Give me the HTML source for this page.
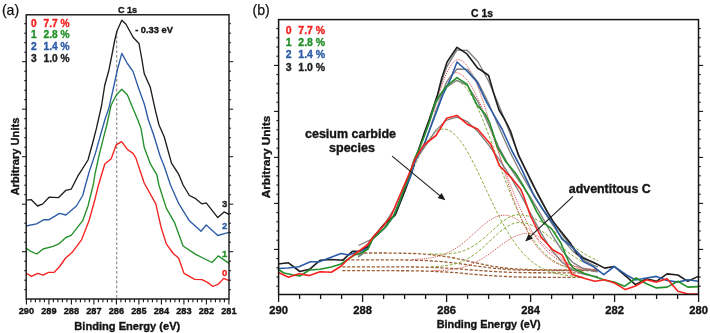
<!DOCTYPE html>
<html><head><meta charset="utf-8"><style>
html,body{margin:0;padding:0;background:#fff;}
body{width:710px;height:333px;overflow:hidden;}
svg{display:block;will-change:transform;}
text{font-family:"Liberation Sans",sans-serif;}
</style></head><body>
<svg width="710" height="333" viewBox="0 0 710 333">
<rect width="710" height="333" fill="#fff"/>
<line x1="116.7" y1="31" x2="116.7" y2="298" stroke="#8a8a8a" stroke-width="1.15" stroke-dasharray="2.8,2"/>
<path d="M26.0,273.0 L31.4,276.4 L37.7,273.3 L43.1,275.1 L48.5,272.4 L53.9,272.4 L59.3,267.0 L65.6,258.0 L72.0,252.6 L81.7,239.6 L89.0,220.7 L94.3,201.8 L98.5,185.0 L104.8,164.0 L111.2,158.8 L116.2,144.8 L121.6,141.6 L127.2,149.2 L133.0,153.4 L135.8,157.9 L140.0,170.5 L144.2,183.0 L155.8,203.9 L161.0,227.0 L166.3,243.9 L173.2,253.5 L178.6,258.0 L184.0,273.4 L194.8,279.3 L202.0,279.7 L207.5,282.4 L212.9,286.5 L218.3,284.2 L223.7,278.4 L229.0,280.6" fill="none" stroke="#f5221e" stroke-width="1.35" stroke-linejoin="round" />
<path d="M26.0,248.1 L31.4,251.7 L36.8,254.0 L43.1,249.0 L53.0,246.3 L59.3,243.6 L65.9,237.5 L71.2,235.4 L82.7,220.7 L88.0,206.0 L93.2,185.0 L95.3,172.5 L99.5,153.6 L103.7,136.8 L106.8,125.0 L111.0,105.5 L116.3,95.0 L121.8,89.2 L127.4,95.0 L133.0,108.6 L138.3,121.0 L141.0,128.4 L144.2,147.3 L150.5,164.2 L156.8,174.7 L158.9,185.0 L166.3,208.1 L174.7,222.9 L183.1,246.0 L195.7,254.4 L212.0,262.5 L218.3,255.9 L229.0,263.4" fill="none" stroke="#23902a" stroke-width="1.35" stroke-linejoin="round" />
<path d="M26.0,226.0 L36.5,223.9 L43.9,219.7 L49.1,219.7 L59.6,213.4 L65.9,215.0 L76.4,206.0 L82.7,195.5 L85.5,185.0 L89.0,172.5 L95.3,153.6 L100.6,134.7 L104.8,120.0 L109.0,107.6 L114.2,84.5 L117.4,69.7 L121.8,53.4 L127.4,63.5 L133.0,71.4 L138.6,88.3 L144.3,104.0 L148.4,120.0 L153.6,134.7 L160.0,155.8 L164.2,166.3 L170.5,185.0 L178.9,203.9 L189.4,220.8 L201.0,231.3 L206.2,225.0 L217.8,235.5 L225.2,233.4 L229.0,232.3" fill="none" stroke="#2c5ca6" stroke-width="1.35" stroke-linejoin="round" />
<path d="M26.0,200.1 L31.3,199.7 L37.6,206.0 L42.8,203.9 L49.1,197.2 L58.6,197.6 L65.9,190.3 L71.2,189.2 L77.5,176.7 L88.0,160.0 L93.2,141.0 L96.4,128.4 L101.6,105.5 L104.7,85.5 L109.0,69.7 L112.5,52.0 L114.8,40.0 L117.0,31.0 L121.8,20.2 L126.0,24.3 L130.5,32.5 L133.5,37.8 L139.0,43.5 L142.0,60.0 L144.2,73.5 L150.3,87.3 L155.5,110.8 L159.0,125.0 L164.2,136.8 L171.5,163.1 L178.9,174.7 L183.1,185.0 L189.4,195.5 L195.7,198.7 L202.0,203.9 L206.2,202.9 L217.8,217.6 L224.1,211.9 L229.0,214.4" fill="none" stroke="#1e1e1e" stroke-width="1.35" stroke-linejoin="round" />
<rect x="26.2" y="14.8" width="202.8" height="284.2" fill="none" stroke="#141414" stroke-width="1.4"/>
<line x1="26.40" y1="299.00" x2="26.40" y2="304.50" stroke="#141414" stroke-width="1.1"/>
<text x="26.4" y="313.8" font-size="9.2" font-weight="bold" fill="#141414" stroke="#141414" stroke-width="0.35" text-anchor="middle" >290</text>
<line x1="30.90" y1="299.00" x2="30.90" y2="302.20" stroke="#141414" stroke-width="1.1"/>
<line x1="35.40" y1="299.00" x2="35.40" y2="302.20" stroke="#141414" stroke-width="1.1"/>
<line x1="39.90" y1="299.00" x2="39.90" y2="302.20" stroke="#141414" stroke-width="1.1"/>
<line x1="44.40" y1="299.00" x2="44.40" y2="302.20" stroke="#141414" stroke-width="1.1"/>
<line x1="48.90" y1="299.00" x2="48.90" y2="304.50" stroke="#141414" stroke-width="1.1"/>
<text x="48.9" y="313.8" font-size="9.2" font-weight="bold" fill="#141414" stroke="#141414" stroke-width="0.35" text-anchor="middle" >289</text>
<line x1="53.40" y1="299.00" x2="53.40" y2="302.20" stroke="#141414" stroke-width="1.1"/>
<line x1="57.90" y1="299.00" x2="57.90" y2="302.20" stroke="#141414" stroke-width="1.1"/>
<line x1="62.40" y1="299.00" x2="62.40" y2="302.20" stroke="#141414" stroke-width="1.1"/>
<line x1="66.90" y1="299.00" x2="66.90" y2="302.20" stroke="#141414" stroke-width="1.1"/>
<line x1="71.40" y1="299.00" x2="71.40" y2="304.50" stroke="#141414" stroke-width="1.1"/>
<text x="71.4" y="313.8" font-size="9.2" font-weight="bold" fill="#141414" stroke="#141414" stroke-width="0.35" text-anchor="middle" >288</text>
<line x1="75.90" y1="299.00" x2="75.90" y2="302.20" stroke="#141414" stroke-width="1.1"/>
<line x1="80.40" y1="299.00" x2="80.40" y2="302.20" stroke="#141414" stroke-width="1.1"/>
<line x1="84.90" y1="299.00" x2="84.90" y2="302.20" stroke="#141414" stroke-width="1.1"/>
<line x1="89.40" y1="299.00" x2="89.40" y2="302.20" stroke="#141414" stroke-width="1.1"/>
<line x1="93.90" y1="299.00" x2="93.90" y2="304.50" stroke="#141414" stroke-width="1.1"/>
<text x="93.9" y="313.8" font-size="9.2" font-weight="bold" fill="#141414" stroke="#141414" stroke-width="0.35" text-anchor="middle" >287</text>
<line x1="98.40" y1="299.00" x2="98.40" y2="302.20" stroke="#141414" stroke-width="1.1"/>
<line x1="102.90" y1="299.00" x2="102.90" y2="302.20" stroke="#141414" stroke-width="1.1"/>
<line x1="107.40" y1="299.00" x2="107.40" y2="302.20" stroke="#141414" stroke-width="1.1"/>
<line x1="111.90" y1="299.00" x2="111.90" y2="302.20" stroke="#141414" stroke-width="1.1"/>
<line x1="116.40" y1="299.00" x2="116.40" y2="304.50" stroke="#141414" stroke-width="1.1"/>
<text x="116.4" y="313.8" font-size="9.2" font-weight="bold" fill="#141414" stroke="#141414" stroke-width="0.35" text-anchor="middle" >286</text>
<line x1="120.90" y1="299.00" x2="120.90" y2="302.20" stroke="#141414" stroke-width="1.1"/>
<line x1="125.40" y1="299.00" x2="125.40" y2="302.20" stroke="#141414" stroke-width="1.1"/>
<line x1="129.90" y1="299.00" x2="129.90" y2="302.20" stroke="#141414" stroke-width="1.1"/>
<line x1="134.40" y1="299.00" x2="134.40" y2="302.20" stroke="#141414" stroke-width="1.1"/>
<line x1="138.90" y1="299.00" x2="138.90" y2="304.50" stroke="#141414" stroke-width="1.1"/>
<text x="138.9" y="313.8" font-size="9.2" font-weight="bold" fill="#141414" stroke="#141414" stroke-width="0.35" text-anchor="middle" >285</text>
<line x1="143.40" y1="299.00" x2="143.40" y2="302.20" stroke="#141414" stroke-width="1.1"/>
<line x1="147.90" y1="299.00" x2="147.90" y2="302.20" stroke="#141414" stroke-width="1.1"/>
<line x1="152.40" y1="299.00" x2="152.40" y2="302.20" stroke="#141414" stroke-width="1.1"/>
<line x1="156.90" y1="299.00" x2="156.90" y2="302.20" stroke="#141414" stroke-width="1.1"/>
<line x1="161.40" y1="299.00" x2="161.40" y2="304.50" stroke="#141414" stroke-width="1.1"/>
<text x="161.4" y="313.8" font-size="9.2" font-weight="bold" fill="#141414" stroke="#141414" stroke-width="0.35" text-anchor="middle" >284</text>
<line x1="165.90" y1="299.00" x2="165.90" y2="302.20" stroke="#141414" stroke-width="1.1"/>
<line x1="170.40" y1="299.00" x2="170.40" y2="302.20" stroke="#141414" stroke-width="1.1"/>
<line x1="174.90" y1="299.00" x2="174.90" y2="302.20" stroke="#141414" stroke-width="1.1"/>
<line x1="179.40" y1="299.00" x2="179.40" y2="302.20" stroke="#141414" stroke-width="1.1"/>
<line x1="183.90" y1="299.00" x2="183.90" y2="304.50" stroke="#141414" stroke-width="1.1"/>
<text x="183.9" y="313.8" font-size="9.2" font-weight="bold" fill="#141414" stroke="#141414" stroke-width="0.35" text-anchor="middle" >283</text>
<line x1="188.40" y1="299.00" x2="188.40" y2="302.20" stroke="#141414" stroke-width="1.1"/>
<line x1="192.90" y1="299.00" x2="192.90" y2="302.20" stroke="#141414" stroke-width="1.1"/>
<line x1="197.40" y1="299.00" x2="197.40" y2="302.20" stroke="#141414" stroke-width="1.1"/>
<line x1="201.90" y1="299.00" x2="201.90" y2="302.20" stroke="#141414" stroke-width="1.1"/>
<line x1="206.40" y1="299.00" x2="206.40" y2="304.50" stroke="#141414" stroke-width="1.1"/>
<text x="206.4" y="313.8" font-size="9.2" font-weight="bold" fill="#141414" stroke="#141414" stroke-width="0.35" text-anchor="middle" >282</text>
<line x1="210.90" y1="299.00" x2="210.90" y2="302.20" stroke="#141414" stroke-width="1.1"/>
<line x1="215.40" y1="299.00" x2="215.40" y2="302.20" stroke="#141414" stroke-width="1.1"/>
<line x1="219.90" y1="299.00" x2="219.90" y2="302.20" stroke="#141414" stroke-width="1.1"/>
<line x1="224.40" y1="299.00" x2="224.40" y2="302.20" stroke="#141414" stroke-width="1.1"/>
<line x1="228.90" y1="299.00" x2="228.90" y2="304.50" stroke="#141414" stroke-width="1.1"/>
<text x="228.9" y="313.8" font-size="9.2" font-weight="bold" fill="#141414" stroke="#141414" stroke-width="0.35" text-anchor="middle" >281</text>
<line x1="24.20" y1="289.70" x2="26.20" y2="289.70" stroke="#141414" stroke-width="1.0"/>
<line x1="229.00" y1="289.70" x2="231.00" y2="289.70" stroke="#141414" stroke-width="1.0"/>
<line x1="24.20" y1="280.20" x2="26.20" y2="280.20" stroke="#141414" stroke-width="1.0"/>
<line x1="229.00" y1="280.20" x2="231.00" y2="280.20" stroke="#141414" stroke-width="1.0"/>
<line x1="24.20" y1="270.70" x2="26.20" y2="270.70" stroke="#141414" stroke-width="1.0"/>
<line x1="229.00" y1="270.70" x2="231.00" y2="270.70" stroke="#141414" stroke-width="1.0"/>
<line x1="24.20" y1="261.20" x2="26.20" y2="261.20" stroke="#141414" stroke-width="1.0"/>
<line x1="229.00" y1="261.20" x2="231.00" y2="261.20" stroke="#141414" stroke-width="1.0"/>
<line x1="22.00" y1="251.70" x2="26.20" y2="251.70" stroke="#141414" stroke-width="1.0"/>
<line x1="229.00" y1="251.70" x2="233.20" y2="251.70" stroke="#141414" stroke-width="1.0"/>
<line x1="24.20" y1="242.20" x2="26.20" y2="242.20" stroke="#141414" stroke-width="1.0"/>
<line x1="229.00" y1="242.20" x2="231.00" y2="242.20" stroke="#141414" stroke-width="1.0"/>
<line x1="24.20" y1="232.70" x2="26.20" y2="232.70" stroke="#141414" stroke-width="1.0"/>
<line x1="229.00" y1="232.70" x2="231.00" y2="232.70" stroke="#141414" stroke-width="1.0"/>
<line x1="24.20" y1="223.20" x2="26.20" y2="223.20" stroke="#141414" stroke-width="1.0"/>
<line x1="229.00" y1="223.20" x2="231.00" y2="223.20" stroke="#141414" stroke-width="1.0"/>
<line x1="24.20" y1="213.70" x2="26.20" y2="213.70" stroke="#141414" stroke-width="1.0"/>
<line x1="229.00" y1="213.70" x2="231.00" y2="213.70" stroke="#141414" stroke-width="1.0"/>
<line x1="22.00" y1="204.20" x2="26.20" y2="204.20" stroke="#141414" stroke-width="1.0"/>
<line x1="229.00" y1="204.20" x2="233.20" y2="204.20" stroke="#141414" stroke-width="1.0"/>
<line x1="24.20" y1="194.70" x2="26.20" y2="194.70" stroke="#141414" stroke-width="1.0"/>
<line x1="229.00" y1="194.70" x2="231.00" y2="194.70" stroke="#141414" stroke-width="1.0"/>
<line x1="24.20" y1="185.20" x2="26.20" y2="185.20" stroke="#141414" stroke-width="1.0"/>
<line x1="229.00" y1="185.20" x2="231.00" y2="185.20" stroke="#141414" stroke-width="1.0"/>
<line x1="24.20" y1="175.70" x2="26.20" y2="175.70" stroke="#141414" stroke-width="1.0"/>
<line x1="229.00" y1="175.70" x2="231.00" y2="175.70" stroke="#141414" stroke-width="1.0"/>
<line x1="24.20" y1="166.20" x2="26.20" y2="166.20" stroke="#141414" stroke-width="1.0"/>
<line x1="229.00" y1="166.20" x2="231.00" y2="166.20" stroke="#141414" stroke-width="1.0"/>
<line x1="22.00" y1="156.70" x2="26.20" y2="156.70" stroke="#141414" stroke-width="1.0"/>
<line x1="229.00" y1="156.70" x2="233.20" y2="156.70" stroke="#141414" stroke-width="1.0"/>
<line x1="24.20" y1="147.20" x2="26.20" y2="147.20" stroke="#141414" stroke-width="1.0"/>
<line x1="229.00" y1="147.20" x2="231.00" y2="147.20" stroke="#141414" stroke-width="1.0"/>
<line x1="24.20" y1="137.70" x2="26.20" y2="137.70" stroke="#141414" stroke-width="1.0"/>
<line x1="229.00" y1="137.70" x2="231.00" y2="137.70" stroke="#141414" stroke-width="1.0"/>
<line x1="24.20" y1="128.20" x2="26.20" y2="128.20" stroke="#141414" stroke-width="1.0"/>
<line x1="229.00" y1="128.20" x2="231.00" y2="128.20" stroke="#141414" stroke-width="1.0"/>
<line x1="24.20" y1="118.70" x2="26.20" y2="118.70" stroke="#141414" stroke-width="1.0"/>
<line x1="229.00" y1="118.70" x2="231.00" y2="118.70" stroke="#141414" stroke-width="1.0"/>
<line x1="22.00" y1="109.20" x2="26.20" y2="109.20" stroke="#141414" stroke-width="1.0"/>
<line x1="229.00" y1="109.20" x2="233.20" y2="109.20" stroke="#141414" stroke-width="1.0"/>
<line x1="24.20" y1="99.70" x2="26.20" y2="99.70" stroke="#141414" stroke-width="1.0"/>
<line x1="229.00" y1="99.70" x2="231.00" y2="99.70" stroke="#141414" stroke-width="1.0"/>
<line x1="24.20" y1="90.20" x2="26.20" y2="90.20" stroke="#141414" stroke-width="1.0"/>
<line x1="229.00" y1="90.20" x2="231.00" y2="90.20" stroke="#141414" stroke-width="1.0"/>
<line x1="24.20" y1="80.70" x2="26.20" y2="80.70" stroke="#141414" stroke-width="1.0"/>
<line x1="229.00" y1="80.70" x2="231.00" y2="80.70" stroke="#141414" stroke-width="1.0"/>
<line x1="24.20" y1="71.20" x2="26.20" y2="71.20" stroke="#141414" stroke-width="1.0"/>
<line x1="229.00" y1="71.20" x2="231.00" y2="71.20" stroke="#141414" stroke-width="1.0"/>
<line x1="22.00" y1="61.70" x2="26.20" y2="61.70" stroke="#141414" stroke-width="1.0"/>
<line x1="229.00" y1="61.70" x2="233.20" y2="61.70" stroke="#141414" stroke-width="1.0"/>
<line x1="24.20" y1="52.20" x2="26.20" y2="52.20" stroke="#141414" stroke-width="1.0"/>
<line x1="229.00" y1="52.20" x2="231.00" y2="52.20" stroke="#141414" stroke-width="1.0"/>
<line x1="24.20" y1="42.70" x2="26.20" y2="42.70" stroke="#141414" stroke-width="1.0"/>
<line x1="229.00" y1="42.70" x2="231.00" y2="42.70" stroke="#141414" stroke-width="1.0"/>
<line x1="24.20" y1="33.20" x2="26.20" y2="33.20" stroke="#141414" stroke-width="1.0"/>
<line x1="229.00" y1="33.20" x2="231.00" y2="33.20" stroke="#141414" stroke-width="1.0"/>
<line x1="24.20" y1="23.70" x2="26.20" y2="23.70" stroke="#141414" stroke-width="1.0"/>
<line x1="229.00" y1="23.70" x2="231.00" y2="23.70" stroke="#141414" stroke-width="1.0"/>
<text x="127.5" y="12.6" font-size="9.1" font-weight="bold" fill="#141414" stroke="#141414" stroke-width="0.35" text-anchor="middle" >C 1s</text>
<text x="135.2" y="33" font-size="9.3" font-weight="bold" fill="#141414" stroke="#141414" stroke-width="0.35" text-anchor="start" >- 0.33 eV</text>
<text x="31" y="26.5" font-size="10.2" font-weight="bold" fill="#f5221e" stroke="#f5221e" stroke-width="0.35" text-anchor="start" >0</text>
<text x="43.6" y="26.5" font-size="10.2" font-weight="bold" fill="#f5221e" stroke="#f5221e" stroke-width="0.35" text-anchor="start" >7.7 %</text>
<text x="31" y="38.45" font-size="10.2" font-weight="bold" fill="#23902a" stroke="#23902a" stroke-width="0.35" text-anchor="start" >1</text>
<text x="43.6" y="38.45" font-size="10.2" font-weight="bold" fill="#23902a" stroke="#23902a" stroke-width="0.35" text-anchor="start" >2.8 %</text>
<text x="31" y="50.4" font-size="10.2" font-weight="bold" fill="#2c5ca6" stroke="#2c5ca6" stroke-width="0.35" text-anchor="start" >2</text>
<text x="43.6" y="50.4" font-size="10.2" font-weight="bold" fill="#2c5ca6" stroke="#2c5ca6" stroke-width="0.35" text-anchor="start" >1.4 %</text>
<text x="31" y="62.35" font-size="10.2" font-weight="bold" fill="#1e1e1e" stroke="#1e1e1e" stroke-width="0.35" text-anchor="start" >3</text>
<text x="43.6" y="62.35" font-size="10.2" font-weight="bold" fill="#1e1e1e" stroke="#1e1e1e" stroke-width="0.35" text-anchor="start" >1.0 %</text>
<text x="227.3" y="207.2" font-size="9.5" font-weight="bold" fill="#1e1e1e" stroke="#1e1e1e" stroke-width="0.35" text-anchor="end" >3</text>
<text x="227.3" y="229.0" font-size="9.5" font-weight="bold" fill="#2c5ca6" stroke="#2c5ca6" stroke-width="0.35" text-anchor="end" >2</text>
<text x="227.3" y="256.9" font-size="9.5" font-weight="bold" fill="#23902a" stroke="#23902a" stroke-width="0.35" text-anchor="end" >1</text>
<text x="227.3" y="276.0" font-size="9.5" font-weight="bold" fill="#f5221e" stroke="#f5221e" stroke-width="0.35" text-anchor="end" >0</text>
<text x="127.3" y="329.6" font-size="11.1" font-weight="bold" fill="#141414" stroke="#141414" stroke-width="0.35" text-anchor="middle" >Binding Energy (eV)</text>
<text transform="translate(19.4,156.5) rotate(-90)" x="0" y="0" font-size="11.1" font-weight="bold" fill="#141414" stroke="#141414" stroke-width="0.35" text-anchor="middle">Arbitrary Units</text>
<text x="1.9" y="14.8" font-size="14.1" font-weight="normal" fill="#141414" stroke="#141414" stroke-width="0.25" text-anchor="start" >(a)</text>
<path d="M354.3,253.0 L356.0,253.0 L358.0,253.0 L360.0,253.0 L362.0,253.0 L364.0,253.0 L366.0,253.0 L368.0,253.0 L370.0,253.0 L372.0,253.0 L374.0,253.0 L376.0,253.0 L378.0,253.0 L380.0,253.0 L382.0,253.0 L384.0,253.0 L386.0,253.0 L388.0,253.1 L390.0,253.1 L392.0,253.1 L394.0,253.1 L396.0,253.1 L398.0,253.1 L400.0,253.2 L402.0,253.2 L404.0,253.2 L406.0,253.3 L408.0,253.3 L410.0,253.4 L412.0,253.5 L414.0,253.5 L416.0,253.6 L418.0,253.7 L420.0,253.8 L422.0,253.9 L424.0,254.1 L426.0,254.2 L428.0,254.4 L430.0,254.6 L432.0,254.7 L434.0,255.0 L436.0,255.2 L438.0,255.4 L440.0,255.7 L442.0,256.0 L444.0,256.3 L446.0,256.6 L448.0,256.9 L450.0,257.3 L452.0,257.7 L454.0,258.0 L456.0,258.4 L458.0,258.9 L460.0,259.3 L462.0,259.7 L464.0,260.2 L466.0,260.6 L468.0,261.0 L470.0,261.5 L472.0,262.0 L474.0,262.4 L476.0,262.8 L478.0,263.3 L480.0,263.7 L482.0,264.1 L484.0,264.6 L486.0,265.0 L488.0,265.3 L490.0,265.7 L492.0,266.1 L494.0,266.4 L496.0,266.7 L498.0,267.0 L500.0,267.3 L502.0,267.6 L504.0,267.8 L506.0,268.0 L508.0,268.3 L510.0,268.4 L512.0,268.6 L514.0,268.8 L516.0,268.9 L518.0,269.1 L520.0,269.2 L522.0,269.3 L524.0,269.4 L526.0,269.5 L528.0,269.5 L530.0,269.6 L532.0,269.7 L534.0,269.7 L536.0,269.8 L538.0,269.8 L540.0,269.8 L542.0,269.9 L544.0,269.9 L546.0,269.9 L548.0,269.9 L550.0,269.9 L552.0,269.9 L554.0,270.0 L556.0,270.0 L558.0,270.0 L560.0,270.0 L562.0,270.0 L564.0,270.0 L566.0,270.0 L568.0,270.0 L570.0,270.0 L572.0,270.0 L574.0,270.0 L576.0,270.0 L578.0,270.0 L580.0,270.0 L582.0,270.0 L584.0,270.0 L586.0,270.0 L588.0,270.0 L590.0,270.0 L592.0,270.0 L594.0,270.0 L596.0,270.0 L598.0,270.0" fill="none" stroke="#9c5f35" stroke-width="1.35" stroke-linejoin="round" stroke-dasharray="3.2,1.7"/>
<path d="M341.5,259.8 L343.0,259.8 L345.0,259.8 L347.0,259.8 L349.0,259.8 L351.0,259.8 L353.0,259.8 L355.0,259.8 L357.0,259.8 L359.0,259.8 L361.0,259.8 L363.0,259.8 L365.0,259.8 L367.0,259.8 L369.0,259.8 L371.0,259.8 L373.0,259.8 L375.0,259.8 L377.0,259.8 L379.0,259.8 L381.0,259.8 L383.0,259.8 L385.0,259.8 L387.0,259.8 L389.0,259.8 L391.0,259.8 L393.0,259.9 L395.0,259.9 L397.0,259.9 L399.0,259.9 L401.0,259.9 L403.0,259.9 L405.0,260.0 L407.0,260.0 L409.0,260.0 L411.0,260.1 L413.0,260.1 L415.0,260.2 L417.0,260.2 L419.0,260.3 L421.0,260.3 L423.0,260.4 L425.0,260.5 L427.0,260.6 L429.0,260.7 L431.0,260.8 L433.0,261.0 L435.0,261.1 L437.0,261.3 L439.0,261.4 L441.0,261.6 L443.0,261.8 L445.0,262.0 L447.0,262.2 L449.0,262.4 L451.0,262.6 L453.0,262.9 L455.0,263.1 L457.0,263.4 L459.0,263.6 L461.0,263.9 L463.0,264.2 L465.0,264.4 L467.0,264.7 L469.0,265.0 L471.0,265.3 L473.0,265.6 L475.0,265.9 L477.0,266.1 L479.0,266.4 L481.0,266.7 L483.0,266.9 L485.0,267.2 L487.0,267.4 L489.0,267.7 L491.0,267.9 L493.0,268.1 L495.0,268.3 L497.0,268.5 L499.0,268.7 L501.0,268.9 L503.0,269.0 L505.0,269.2 L507.0,269.3 L509.0,269.5 L511.0,269.6 L513.0,269.7 L515.0,269.8 L517.0,269.9 L519.0,270.0 L521.0,270.0 L523.0,270.1 L525.0,270.1 L527.0,270.2 L529.0,270.2 L531.0,270.3 L533.0,270.3 L535.0,270.3 L537.0,270.4 L539.0,270.4 L541.0,270.4 L543.0,270.4 L545.0,270.4 L547.0,270.4 L549.0,270.5 L551.0,270.5 L553.0,270.5 L555.0,270.5 L557.0,270.5 L559.0,270.5 L561.0,270.5 L563.0,270.5 L565.0,270.5 L567.0,270.5 L569.0,270.5 L571.0,270.5 L573.0,270.5 L575.0,270.5 L577.0,270.5 L579.0,270.5 L581.0,270.5 L583.0,270.5 L585.0,270.5 L587.0,270.5 L589.0,270.5 L591.0,270.5 L593.0,270.5 L595.0,270.5 L597.0,270.5 L598.0,270.5" fill="none" stroke="#9c5f35" stroke-width="1.35" stroke-linejoin="round" stroke-dasharray="3.2,1.7"/>
<path d="M342.3,266.8 L344.0,266.8 L346.0,266.8 L348.0,266.8 L350.0,266.8 L352.0,266.8 L354.0,266.8 L356.0,266.8 L358.0,266.8 L360.0,266.8 L362.0,266.8 L364.0,266.8 L366.0,266.8 L368.0,266.8 L370.0,266.8 L372.0,266.8 L374.0,266.8 L376.0,266.8 L378.0,266.8 L380.0,266.8 L382.0,266.8 L384.0,266.8 L386.0,266.8 L388.0,266.8 L390.0,266.8 L392.0,266.8 L394.0,266.8 L396.0,266.8 L398.0,266.8 L400.0,266.9 L402.0,266.9 L404.0,266.9 L406.0,266.9 L408.0,266.9 L410.0,266.9 L412.0,267.0 L414.0,267.0 L416.0,267.0 L418.0,267.0 L420.0,267.1 L422.0,267.1 L424.0,267.2 L426.0,267.2 L428.0,267.3 L430.0,267.3 L432.0,267.4 L434.0,267.5 L436.0,267.6 L438.0,267.7 L440.0,267.8 L442.0,267.9 L444.0,268.0 L446.0,268.1 L448.0,268.2 L450.0,268.3 L452.0,268.4 L454.0,268.6 L456.0,268.7 L458.0,268.9 L460.0,269.0 L462.0,269.2 L464.0,269.3 L466.0,269.5 L468.0,269.6 L470.0,269.8 L472.0,270.0 L474.0,270.1 L476.0,270.3 L478.0,270.4 L480.0,270.6 L482.0,270.7 L484.0,270.9 L486.0,271.0 L488.0,271.2 L490.0,271.3 L492.0,271.4 L494.0,271.5 L496.0,271.6 L498.0,271.7 L500.0,271.8 L502.0,271.9 L504.0,272.0 L506.0,272.1 L508.0,272.2 L510.0,272.3 L512.0,272.3 L514.0,272.4 L516.0,272.4 L518.0,272.5 L520.0,272.5 L522.0,272.6 L524.0,272.6 L526.0,272.6 L528.0,272.6 L530.0,272.7 L532.0,272.7 L534.0,272.7 L536.0,272.7 L538.0,272.7 L540.0,272.7 L542.0,272.8 L544.0,272.8 L546.0,272.8 L548.0,272.8 L550.0,272.8 L552.0,272.8 L554.0,272.8 L556.0,272.8 L558.0,272.8 L560.0,272.8 L562.0,272.8 L564.0,272.8 L566.0,272.8 L568.0,272.8 L570.0,272.8 L572.0,272.8 L574.0,272.8 L576.0,272.8 L578.0,272.8 L580.0,272.8 L582.0,272.8 L583.5,272.8" fill="none" stroke="#9c5f35" stroke-width="1.35" stroke-linejoin="round" stroke-dasharray="3.2,1.7"/>
<path d="M342.3,270.6 L344.0,270.6 L346.0,270.6 L348.0,270.6 L350.0,270.6 L352.0,270.6 L354.0,270.6 L356.0,270.6 L358.0,270.6 L360.0,270.6 L362.0,270.6 L364.0,270.6 L366.0,270.6 L368.0,270.6 L370.0,270.6 L372.0,270.6 L374.0,270.6 L376.0,270.6 L378.0,270.6 L380.0,270.6 L382.0,270.6 L384.0,270.6 L386.0,270.6 L388.0,270.6 L390.0,270.6 L392.0,270.6 L394.0,270.6 L396.0,270.6 L398.0,270.7 L400.0,270.7 L402.0,270.7 L404.0,270.7 L406.0,270.7 L408.0,270.7 L410.0,270.8 L412.0,270.8 L414.0,270.8 L416.0,270.8 L418.0,270.9 L420.0,270.9 L422.0,271.0 L424.0,271.0 L426.0,271.1 L428.0,271.1 L430.0,271.2 L432.0,271.3 L434.0,271.4 L436.0,271.5 L438.0,271.6 L440.0,271.7 L442.0,271.8 L444.0,271.9 L446.0,272.0 L448.0,272.2 L450.0,272.3 L452.0,272.4 L454.0,272.6 L456.0,272.7 L458.0,272.9 L460.0,273.1 L462.0,273.2 L464.0,273.4 L466.0,273.6 L468.0,273.8 L470.0,274.0 L472.0,274.1 L474.0,274.3 L476.0,274.5 L478.0,274.7 L480.0,274.8 L482.0,275.0 L484.0,275.2 L486.0,275.3 L488.0,275.5 L490.0,275.6 L492.0,275.7 L494.0,275.9 L496.0,276.0 L498.0,276.1 L500.0,276.2 L502.0,276.3 L504.0,276.4 L506.0,276.5 L508.0,276.6 L510.0,276.7 L512.0,276.8 L514.0,276.8 L516.0,276.9 L518.0,276.9 L520.0,277.0 L522.0,277.0 L524.0,277.1 L526.0,277.1 L528.0,277.1 L530.0,277.1 L532.0,277.2 L534.0,277.2 L536.0,277.2 L538.0,277.2 L540.0,277.2 L542.0,277.2 L544.0,277.3 L546.0,277.3 L548.0,277.3 L550.0,277.3 L552.0,277.3 L554.0,277.3 L556.0,277.3 L558.0,277.3 L560.0,277.3 L562.0,277.3 L564.0,277.3 L566.0,277.3 L568.0,277.3 L570.0,277.3 L572.0,277.3 L574.0,277.3 L576.0,277.3 L578.0,277.3 L580.0,277.3 L582.0,277.3 L583.5,277.3" fill="none" stroke="#9c5f35" stroke-width="1.35" stroke-linejoin="round" stroke-dasharray="3.2,1.7"/>
<path d="M414.0,167.2 L415.0,165.0 L416.0,162.8 L417.0,160.7 L418.0,158.6 L419.0,156.5 L420.0,154.5 L421.0,152.6 L422.0,150.7 L423.0,148.9 L424.0,147.1 L425.0,145.4 L426.0,143.7 L427.0,142.1 L428.0,140.7 L429.0,139.2 L430.0,137.9 L431.0,136.6 L432.0,135.5 L433.0,134.4 L434.0,133.4 L435.0,132.5 L436.0,131.7 L437.0,131.0 L438.0,130.4 L439.0,129.9 L440.0,129.5 L441.0,129.2 L442.0,129.1 L443.0,129.0 L444.0,129.0 L445.0,129.1 L446.0,129.3 L447.0,129.6 L448.0,129.9 L449.0,130.4 L450.0,130.9 L451.0,131.5 L452.0,132.2 L453.0,133.0 L454.0,133.8 L455.0,134.7 L456.0,135.7 L457.0,136.8 L458.0,137.9 L459.0,139.1 L460.0,140.4 L461.0,141.7 L462.0,143.1 L463.0,144.6 L464.0,146.1 L465.0,147.7 L466.0,149.3 L467.0,151.0 L468.0,152.8 L469.0,154.5 L470.0,156.4 L471.0,158.2 L472.0,160.1 L473.0,162.1 L474.0,164.0 L475.0,166.0 L476.0,168.1 L477.0,170.1 L478.0,172.2 L479.0,174.3 L480.0,176.4 L481.0,178.5 L482.0,180.7 L483.0,182.8 L484.0,185.0 L485.0,187.1 L486.0,189.3 L487.0,191.4 L488.0,193.6 L489.0,195.7 L490.0,197.8 L491.0,199.9 L492.0,202.0 L493.0,204.1 L494.0,206.2 L495.0,208.3 L496.0,210.3 L497.0,212.3 L498.0,214.3 L499.0,216.2 L500.0,218.2 L501.0,220.1 L502.0,222.0 L503.0,223.8 L504.0,225.6 L505.0,227.4 L506.0,229.1 L507.0,230.8 L508.0,232.5 L509.0,234.2 L510.0,235.8 L511.0,237.3 L512.0,238.9 L513.0,240.3 L514.0,241.8 L515.0,243.2 L516.0,244.6 L517.0,245.9 L518.0,247.2 L519.0,248.5 L520.0,249.7 L521.0,250.9 L522.0,252.1 L523.0,253.2 L524.0,254.3 L525.0,255.3 L526.0,256.3 L527.0,257.3 L528.0,258.2 L529.0,259.1 L530.0,260.0 L531.0,260.9 L532.0,261.7 L533.0,262.4 L534.0,263.2 L535.0,263.9 L536.0,264.6 L537.0,265.3 L538.0,265.9 L539.0,266.5 L540.0,267.1 L541.0,267.6 L542.0,268.1 L543.0,268.6 L544.0,269.1 L545.0,269.6 L546.0,270.0 L547.0,270.4 L548.0,270.8 L549.0,271.2 L550.0,271.6 L551.0,271.9 L552.0,272.2 L553.0,272.5 L554.0,272.8 L555.0,273.1 L556.0,273.4 L557.0,273.6 L558.0,273.8 L559.0,274.1 L560.0,274.3 L561.0,274.5 L562.0,274.7 L563.0,274.8 L564.0,275.0 L565.0,275.1 L566.0,275.3 L567.0,275.4 L568.0,275.6 L569.0,275.7 L570.0,275.8 L571.0,275.9 L572.0,276.0 L573.0,276.1 L574.0,276.2 L575.0,276.3 L576.0,276.3 L577.0,276.4 L578.0,276.5 L579.0,276.5 L580.0,276.6 L581.0,276.6 L582.0,276.7" fill="none" stroke="#86ad3a" stroke-width="1.0" stroke-linejoin="round" stroke-dasharray="3,1.7"/>
<path d="M446.0,88.3 L447.0,86.7 L448.0,85.2 L449.0,84.0 L450.0,82.9 L451.0,82.0 L452.0,81.4 L453.0,80.9 L454.0,80.7 L455.0,80.7 L456.0,80.8 L457.0,81.0 L458.0,81.3 L459.0,81.8 L460.0,82.3 L461.0,83.0 L462.0,83.8 L463.0,84.6 L464.0,85.6 L465.0,86.7 L466.0,87.8 L467.0,89.1 L468.0,90.4 L469.0,91.9 L470.0,93.4 L471.0,95.0 L472.0,96.7 L473.0,98.5 L474.0,100.4 L475.0,102.3 L476.0,104.4 L477.0,106.5 L478.0,108.6 L479.0,110.8 L480.0,113.1 L481.0,115.4 L482.0,117.8 L483.0,120.3 L484.0,122.8 L485.0,125.3 L486.0,127.8 L487.0,130.4 L488.0,133.1 L489.0,135.7 L490.0,138.4 L491.0,141.1 L492.0,143.9 L493.0,146.6 L494.0,149.4 L495.0,152.1 L496.0,154.9 L497.0,157.7 L498.0,160.4 L499.0,163.2 L500.0,166.0 L501.0,168.7 L502.0,171.4 L503.0,174.1 L504.0,176.8 L505.0,179.5 L506.0,182.2 L507.0,184.8 L508.0,187.4 L509.0,190.0 L510.0,192.5 L511.0,195.0 L512.0,197.5 L513.0,199.9 L514.0,202.3 L515.0,204.6 L516.0,206.9 L517.0,209.2 L518.0,211.4 L519.0,213.6 L520.0,215.8 L521.0,217.8 L522.0,219.9 L523.0,221.9 L524.0,223.8 L525.0,225.7 L526.0,227.6 L527.0,229.4 L528.0,231.1 L529.0,232.8 L530.0,234.5 L531.0,236.1 L532.0,237.7 L533.0,239.2 L534.0,240.6 L535.0,242.1 L536.0,243.4 L537.0,244.8 L538.0,246.1 L539.0,247.3 L540.0,248.5 L541.0,249.6 L542.0,250.8 L543.0,251.8 L544.0,252.8 L545.0,253.8 L546.0,254.8 L547.0,255.7 L548.0,256.6 L549.0,257.4 L550.0,258.2 L551.0,259.0 L552.0,259.7 L553.0,260.4 L554.0,261.1 L555.0,261.7 L556.0,262.4 L557.0,262.9 L558.0,263.5 L559.0,264.0 L560.0,264.5 L561.0,265.0 L562.0,265.5 L563.0,265.9 L564.0,266.3 L565.0,266.7 L566.0,267.1 L567.0,267.4 L568.0,267.8 L569.0,268.1 L570.0,268.4 L571.0,268.7 L572.0,268.9 L573.0,269.2 L574.0,269.4 L575.0,269.6 L576.0,269.8 L577.0,270.0 L578.0,270.2 L579.0,270.4 L580.0,270.6 L581.0,270.7 L582.0,270.9 L583.0,271.0" fill="none" stroke="#86ad3a" stroke-width="1.0" stroke-linejoin="round" stroke-dasharray="3,1.7"/>
<path d="M444.0,87.7 L445.0,85.3 L446.0,83.1 L447.0,81.1 L448.0,79.3 L449.0,77.7 L450.0,76.3 L451.0,75.1 L452.0,74.1 L453.0,73.4 L454.0,72.9 L455.0,72.6 L456.0,72.5 L457.0,72.7 L458.0,72.9 L459.0,73.3 L460.0,73.8 L461.0,74.4 L462.0,75.0 L463.0,75.8 L464.0,76.7 L465.0,77.7 L466.0,78.8 L467.0,80.0 L468.0,81.3 L469.0,82.6 L470.0,84.1 L471.0,85.7 L472.0,87.3 L473.0,89.0 L474.0,90.9 L475.0,92.8 L476.0,94.7 L477.0,96.8 L478.0,98.9 L479.0,101.1 L480.0,103.3 L481.0,105.6 L482.0,108.0 L483.0,110.4 L484.0,112.9 L485.0,115.4 L486.0,117.9 L487.0,120.5 L488.0,123.2 L489.0,125.8 L490.0,128.5 L491.0,131.3 L492.0,134.0 L493.0,136.8 L494.0,139.6 L495.0,142.4 L496.0,145.2 L497.0,148.0 L498.0,150.8 L499.0,153.6 L500.0,156.4 L501.0,159.2 L502.0,162.0 L503.0,164.8 L504.0,167.5 L505.0,170.3 L506.0,173.0 L507.0,175.7 L508.0,178.4 L509.0,181.1 L510.0,183.7 L511.0,186.3 L512.0,188.8 L513.0,191.4 L514.0,193.9 L515.0,196.3 L516.0,198.7 L517.0,201.1 L518.0,203.4 L519.0,205.7 L520.0,208.0 L521.0,210.2 L522.0,212.3 L523.0,214.4 L524.0,216.5 L525.0,218.5 L526.0,220.5 L527.0,222.4 L528.0,224.3 L529.0,226.1 L530.0,227.9 L531.0,229.6 L532.0,231.3 L533.0,232.9 L534.0,234.5 L535.0,236.0 L536.0,237.5 L537.0,238.9 L538.0,240.3 L539.0,241.7 L540.0,243.0 L541.0,244.2 L542.0,245.4 L543.0,246.6 L544.0,247.7 L545.0,248.8 L546.0,249.9 L547.0,250.9 L548.0,251.9 L549.0,252.8 L550.0,253.7 L551.0,254.5 L552.0,255.4 L553.0,256.1 L554.0,256.9 L555.0,257.6 L556.0,258.3 L557.0,259.0 L558.0,259.6 L559.0,260.2 L560.0,260.8 L561.0,261.3 L562.0,261.8 L563.0,262.3 L564.0,262.8 L565.0,263.2 L566.0,263.7 L567.0,264.1 L568.0,264.5 L569.0,264.8 L570.0,265.2 L571.0,265.5 L572.0,265.8 L573.0,266.1 L574.0,266.4 L575.0,266.6 L576.0,266.9 L577.0,267.1 L578.0,267.3 L579.0,267.5 L580.0,267.7 L581.0,267.9 L582.0,268.1 L583.0,268.3 L584.0,268.4 L585.0,268.6 L586.0,268.7 L587.0,268.8 L588.0,268.9 L589.0,269.0 L590.0,269.1 L591.0,269.2 L592.0,269.3 L593.0,269.4 L594.0,269.5 L595.0,269.6 L596.0,269.6 L597.0,269.7 L598.0,269.8" fill="none" stroke="#d44c4c" stroke-width="1.0" stroke-linejoin="round" stroke-dasharray="1.1,1.1"/>
<path d="M434.0,111.7 L435.0,108.1 L436.0,104.6 L437.0,101.1 L438.0,97.7 L439.0,94.4 L440.0,91.2 L441.0,88.1 L442.0,85.2 L443.0,82.3 L444.0,79.6 L445.0,77.0 L446.0,74.6 L447.0,72.4 L448.0,70.3 L449.0,68.4 L450.0,66.6 L451.0,65.1 L452.0,63.7 L453.0,62.5 L454.0,61.5 L455.0,60.7 L456.0,60.2 L457.0,59.8 L458.0,59.6 L459.0,59.7 L460.0,59.9 L461.0,60.3 L462.0,60.8 L463.0,61.5 L464.0,62.3 L465.0,63.3 L466.0,64.4 L467.0,65.6 L468.0,67.0 L469.0,68.5 L470.0,70.1 L471.0,71.8 L472.0,73.7 L473.0,75.7 L474.0,77.8 L475.0,80.0 L476.0,82.4 L477.0,84.8 L478.0,87.3 L479.0,89.9 L480.0,92.6 L481.0,95.4 L482.0,98.3 L483.0,101.2 L484.0,104.2 L485.0,107.3 L486.0,110.4 L487.0,113.6 L488.0,116.8 L489.0,120.1 L490.0,123.3 L491.0,126.7 L492.0,130.0 L493.0,133.4 L494.0,136.7 L495.0,140.1 L496.0,143.5 L497.0,146.9 L498.0,150.3 L499.0,153.6 L500.0,157.0 L501.0,160.3 L502.0,163.7 L503.0,166.9 L504.0,170.2 L505.0,173.4 L506.0,176.6 L507.0,179.7 L508.0,182.8 L509.0,185.9 L510.0,188.9 L511.0,191.8 L512.0,194.7 L513.0,197.6 L514.0,200.4 L515.0,203.1 L516.0,205.7 L517.0,208.3 L518.0,210.9 L519.0,213.4 L520.0,215.8 L521.0,218.1 L522.0,220.4 L523.0,222.6 L524.0,224.7 L525.0,226.8 L526.0,228.8 L527.0,230.8 L528.0,232.6 L529.0,234.5 L530.0,236.2 L531.0,237.9 L532.0,239.5 L533.0,241.1 L534.0,242.6 L535.0,244.0 L536.0,245.4 L537.0,246.7 L538.0,248.0 L539.0,249.2 L540.0,250.4 L541.0,251.5 L542.0,252.6 L543.0,253.6 L544.0,254.5 L545.0,255.5 L546.0,256.3 L547.0,257.2 L548.0,257.9 L549.0,258.7 L550.0,259.4 L551.0,260.1 L552.0,260.7 L553.0,261.3 L554.0,261.9 L555.0,262.4 L556.0,262.9 L557.0,263.4 L558.0,263.8 L559.0,264.3 L560.0,264.7 L561.0,265.0 L562.0,265.4 L563.0,265.7 L564.0,266.0 L565.0,266.3 L566.0,266.6 L567.0,266.8 L568.0,267.1 L569.0,267.3 L570.0,267.5 L571.0,267.7 L572.0,267.9 L573.0,268.0 L574.0,268.2 L575.0,268.3 L576.0,268.5 L577.0,268.6 L578.0,268.7 L579.0,268.8 L580.0,268.9 L581.0,269.0 L582.0,269.1 L583.0,269.2 L584.0,269.2 L585.0,269.3 L586.0,269.4" fill="none" stroke="#d44c4c" stroke-width="1.0" stroke-linejoin="round" stroke-dasharray="1.1,1.1"/>
<path d="M413.0,259.5 L414.0,259.4 L415.0,259.4 L416.0,259.3 L417.0,259.3 L418.0,259.2 L419.0,259.2 L420.0,259.1 L421.0,259.0 L422.0,259.0 L423.0,258.9 L424.0,258.8 L425.0,258.7 L426.0,258.5 L427.0,258.4 L428.0,258.3 L429.0,258.1 L430.0,258.0 L431.0,257.8 L432.0,257.6 L433.0,257.5 L434.0,257.3 L435.0,257.0 L436.0,256.8 L437.0,256.6 L438.0,256.3 L439.0,256.0 L440.0,255.7 L441.0,255.4 L442.0,255.0 L443.0,254.7 L444.0,254.3 L445.0,253.9 L446.0,253.5 L447.0,253.1 L448.0,252.6 L449.0,252.1 L450.0,251.6 L451.0,251.1 L452.0,250.6 L453.0,250.0 L454.0,249.4 L455.0,248.8 L456.0,248.1 L457.0,247.5 L458.0,246.8 L459.0,246.1 L460.0,245.4 L461.0,244.6 L462.0,243.8 L463.0,243.1 L464.0,242.3 L465.0,241.4 L466.0,240.6 L467.0,239.8 L468.0,238.9 L469.0,238.0 L470.0,237.1 L471.0,236.2 L472.0,235.3 L473.0,234.4 L474.0,233.5 L475.0,232.6 L476.0,231.7 L477.0,230.7 L478.0,229.8 L479.0,228.9 L480.0,228.0 L481.0,227.2 L482.0,226.3 L483.0,225.4 L484.0,224.6 L485.0,223.8 L486.0,223.0 L487.0,222.3 L488.0,221.5 L489.0,220.8 L490.0,220.1 L491.0,219.5 L492.0,218.9 L493.0,218.3 L494.0,217.8 L495.0,217.3 L496.0,216.9 L497.0,216.5 L498.0,216.2 L499.0,215.9 L500.0,215.6 L501.0,215.5 L502.0,215.3 L503.0,215.2 L504.0,215.2 L505.0,215.2 L506.0,215.3 L507.0,215.4 L508.0,215.6 L509.0,215.8 L510.0,216.1 L511.0,216.4 L512.0,216.8 L513.0,217.2 L514.0,217.7 L515.0,218.2 L516.0,218.8 L517.0,219.4 L518.0,220.1 L519.0,220.8 L520.0,221.5 L521.0,222.3 L522.0,223.1 L523.0,223.9 L524.0,224.8 L525.0,225.7 L526.0,226.7 L527.0,227.6 L528.0,228.6 L529.0,229.6 L530.0,230.6 L531.0,231.6 L532.0,232.6 L533.0,233.7 L534.0,234.7 L535.0,235.8 L536.0,236.9 L537.0,237.9 L538.0,239.0 L539.0,240.0 L540.0,241.1 L541.0,242.1 L542.0,243.2 L543.0,244.2 L544.0,245.2 L545.0,246.2 L546.0,247.2 L547.0,248.2 L548.0,249.1 L549.0,250.0 L550.0,250.9 L551.0,251.8 L552.0,252.7 L553.0,253.5 L554.0,254.3 L555.0,255.1 L556.0,255.9 L557.0,256.7 L558.0,257.4 L559.0,258.1 L560.0,258.7 L561.0,259.4 L562.0,260.0 L563.0,260.6 L564.0,261.2 L565.0,261.7 L566.0,262.3 L567.0,262.8 L568.0,263.2 L569.0,263.7 L570.0,264.1 L571.0,264.5 L572.0,264.9 L573.0,265.3 L574.0,265.6 L575.0,266.0 L576.0,266.3 L577.0,266.6 L578.0,266.9 L579.0,267.1 L580.0,267.4 L581.0,267.6 L582.0,267.8 L583.0,268.0 L584.0,268.2 L585.0,268.4 L586.0,268.6 L587.0,268.7 L588.0,268.9 L589.0,269.0 L590.0,269.1 L591.0,269.2 L592.0,269.3 L593.0,269.4 L594.0,269.5 L595.0,269.6 L596.0,269.7 L597.0,269.8 L598.0,269.8" fill="none" stroke="#d44c4c" stroke-width="1.0" stroke-linejoin="round" stroke-dasharray="1.1,1.1"/>
<path d="M430.0,253.9 L431.0,254.0 L432.0,254.0 L433.0,254.0 L434.0,254.1 L435.0,254.1 L436.0,254.1 L437.0,254.1 L438.0,254.1 L439.0,254.1 L440.0,254.1 L441.0,254.1 L442.0,254.1 L443.0,254.1 L444.0,254.1 L445.0,254.0 L446.0,254.0 L447.0,253.9 L448.0,253.9 L449.0,253.8 L450.0,253.7 L451.0,253.6 L452.0,253.5 L453.0,253.4 L454.0,253.2 L455.0,253.0 L456.0,252.8 L457.0,252.6 L458.0,252.4 L459.0,252.2 L460.0,251.9 L461.0,251.6 L462.0,251.3 L463.0,251.0 L464.0,250.6 L465.0,250.2 L466.0,249.8 L467.0,249.4 L468.0,248.9 L469.0,248.4 L470.0,247.9 L471.0,247.4 L472.0,246.8 L473.0,246.2 L474.0,245.6 L475.0,244.9 L476.0,244.3 L477.0,243.6 L478.0,242.8 L479.0,242.1 L480.0,241.3 L481.0,240.5 L482.0,239.7 L483.0,238.9 L484.0,238.0 L485.0,237.2 L486.0,236.3 L487.0,235.4 L488.0,234.5 L489.0,233.6 L490.0,232.7 L491.0,231.7 L492.0,230.8 L493.0,229.9 L494.0,229.0 L495.0,228.0 L496.0,227.1 L497.0,226.2 L498.0,225.4 L499.0,224.5 L500.0,223.7 L501.0,222.8 L502.0,222.0 L503.0,221.3 L504.0,220.5 L505.0,219.8 L506.0,219.2 L507.0,218.5 L508.0,217.9 L509.0,217.4 L510.0,216.9 L511.0,216.4 L512.0,216.0 L513.0,215.7 L514.0,215.4 L515.0,215.1 L516.0,214.9 L517.0,214.8 L518.0,214.7 L519.0,214.7 L520.0,214.7 L521.0,214.8 L522.0,214.9 L523.0,215.0 L524.0,215.1 L525.0,215.3 L526.0,215.5 L527.0,215.8 L528.0,216.1 L529.0,216.4 L530.0,216.7 L531.0,217.0 L532.0,217.4 L533.0,217.8 L534.0,218.2 L535.0,218.7 L536.0,219.2 L537.0,219.7 L538.0,220.2 L539.0,220.8 L540.0,221.3 L541.0,221.9 L542.0,222.5 L543.0,223.2 L544.0,223.8 L545.0,224.5 L546.0,225.2 L547.0,225.9 L548.0,226.6 L549.0,227.3 L550.0,228.0 L551.0,228.8 L552.0,229.5 L553.0,230.3 L554.0,231.1 L555.0,231.8 L556.0,232.6 L557.0,233.4 L558.0,234.2 L559.0,235.0 L560.0,235.8 L561.0,236.6 L562.0,237.4 L563.0,238.2 L564.0,239.0 L565.0,239.8 L566.0,240.6 L567.0,241.4 L568.0,242.2 L569.0,242.9 L570.0,243.7 L571.0,244.5 L572.0,245.2 L573.0,246.0 L574.0,246.7 L575.0,247.4 L576.0,248.2 L577.0,248.9 L578.0,249.6 L579.0,250.3 L580.0,250.9 L581.0,251.6 L582.0,252.2 L583.0,252.9 L584.0,253.5 L585.0,254.1 L586.0,254.7 L587.0,255.3 L588.0,255.9 L589.0,256.4 L590.0,256.9 L591.0,257.5 L592.0,258.0 L593.0,258.5 L594.0,259.0 L595.0,259.4 L596.0,259.9 L597.0,260.3 L598.0,260.8" fill="none" stroke="#86ad3a" stroke-width="1.0" stroke-linejoin="round" stroke-dasharray="3,1.7"/>
<path d="M431.0,266.8 L432.0,266.7 L433.0,266.7 L434.0,266.7 L435.0,266.6 L436.0,266.6 L437.0,266.5 L438.0,266.5 L439.0,266.4 L440.0,266.3 L441.0,266.2 L442.0,266.1 L443.0,266.0 L444.0,265.9 L445.0,265.8 L446.0,265.7 L447.0,265.5 L448.0,265.4 L449.0,265.2 L450.0,265.0 L451.0,264.8 L452.0,264.6 L453.0,264.4 L454.0,264.1 L455.0,263.9 L456.0,263.6 L457.0,263.3 L458.0,263.0 L459.0,262.6 L460.0,262.2 L461.0,261.9 L462.0,261.5 L463.0,261.0 L464.0,260.6 L465.0,260.1 L466.0,259.6 L467.0,259.1 L468.0,258.5 L469.0,257.9 L470.0,257.3 L471.0,256.7 L472.0,256.1 L473.0,255.4 L474.0,254.7 L475.0,254.0 L476.0,253.2 L477.0,252.5 L478.0,251.7 L479.0,250.9 L480.0,250.0 L481.0,249.2 L482.0,248.3 L483.0,247.4 L484.0,246.5 L485.0,245.6 L486.0,244.7 L487.0,243.8 L488.0,242.8 L489.0,241.9 L490.0,241.0 L491.0,240.0 L492.0,239.1 L493.0,238.1 L494.0,237.2 L495.0,236.3 L496.0,235.3 L497.0,234.4 L498.0,233.5 L499.0,232.7 L500.0,231.8 L501.0,231.0 L502.0,230.2 L503.0,229.4 L504.0,228.7 L505.0,227.9 L506.0,227.3 L507.0,226.6 L508.0,226.0 L509.0,225.5 L510.0,225.0 L511.0,224.5 L512.0,224.1 L513.0,223.7 L514.0,223.4 L515.0,223.1 L516.0,222.9 L517.0,222.7 L518.0,222.6 L519.0,222.5 L520.0,222.5 L521.0,222.6 L522.0,222.6 L523.0,222.7 L524.0,222.9 L525.0,223.1 L526.0,223.3 L527.0,223.6 L528.0,223.9 L529.0,224.2 L530.0,224.6 L531.0,225.0 L532.0,225.4 L533.0,225.8 L534.0,226.3 L535.0,226.9 L536.0,227.4 L537.0,228.0 L538.0,228.6 L539.0,229.2 L540.0,229.9 L541.0,230.6 L542.0,231.3 L543.0,232.0 L544.0,232.7 L545.0,233.5 L546.0,234.2 L547.0,235.0 L548.0,235.8 L549.0,236.6 L550.0,237.4 L551.0,238.3 L552.0,239.1 L553.0,239.9 L554.0,240.8 L555.0,241.6 L556.0,242.5 L557.0,243.3 L558.0,244.1 L559.0,245.0 L560.0,245.8 L561.0,246.7 L562.0,247.5 L563.0,248.3 L564.0,249.1 L565.0,249.9 L566.0,250.7 L567.0,251.5 L568.0,252.2 L569.0,253.0 L570.0,253.7 L571.0,254.5 L572.0,255.2 L573.0,255.9 L574.0,256.6 L575.0,257.2 L576.0,257.9 L577.0,258.5 L578.0,259.1 L579.0,259.7 L580.0,260.3 L581.0,260.9 L582.0,261.5 L583.0,262.0" fill="none" stroke="#86ad3a" stroke-width="1.0" stroke-linejoin="round" stroke-dasharray="3,1.7"/>
<path d="M432.0,270.7 L433.0,270.7 L434.0,270.7 L435.0,270.6 L436.0,270.6 L437.0,270.6 L438.0,270.5 L439.0,270.5 L440.0,270.5 L441.0,270.4 L442.0,270.4 L443.0,270.3 L444.0,270.2 L445.0,270.2 L446.0,270.1 L447.0,270.0 L448.0,269.9 L449.0,269.8 L450.0,269.7 L451.0,269.6 L452.0,269.5 L453.0,269.3 L454.0,269.2 L455.0,269.0 L456.0,268.8 L457.0,268.6 L458.0,268.4 L459.0,268.2 L460.0,268.0 L461.0,267.8 L462.0,267.5 L463.0,267.2 L464.0,266.9 L465.0,266.6 L466.0,266.3 L467.0,266.0 L468.0,265.6 L469.0,265.2 L470.0,264.8 L471.0,264.4 L472.0,264.0 L473.0,263.6 L474.0,263.1 L475.0,262.6 L476.0,262.1 L477.0,261.6 L478.0,261.0 L479.0,260.5 L480.0,259.9 L481.0,259.3 L482.0,258.7 L483.0,258.1 L484.0,257.5 L485.0,256.8 L486.0,256.1 L487.0,255.5 L488.0,254.8 L489.0,254.1 L490.0,253.4 L491.0,252.6 L492.0,251.9 L493.0,251.2 L494.0,250.4 L495.0,249.7 L496.0,249.0 L497.0,248.2 L498.0,247.5 L499.0,246.7 L500.0,246.0 L501.0,245.2 L502.0,244.5 L503.0,243.8 L504.0,243.1 L505.0,242.4 L506.0,241.7 L507.0,241.1 L508.0,240.4 L509.0,239.8 L510.0,239.2 L511.0,238.6 L512.0,238.0 L513.0,237.5 L514.0,237.0 L515.0,236.5 L516.0,236.0 L517.0,235.6 L518.0,235.2 L519.0,234.9 L520.0,234.6 L521.0,234.3 L522.0,234.0 L523.0,233.8 L524.0,233.6 L525.0,233.5 L526.0,233.4 L527.0,233.3 L528.0,233.3 L529.0,233.4 L530.0,233.4 L531.0,233.6 L532.0,233.8 L533.0,234.1 L534.0,234.4 L535.0,234.8 L536.0,235.3 L537.0,235.8 L538.0,236.4 L539.0,237.0 L540.0,237.7 L541.0,238.4 L542.0,239.1 L543.0,239.9 L544.0,240.8 L545.0,241.6 L546.0,242.5 L547.0,243.4 L548.0,244.4 L549.0,245.4 L550.0,246.4 L551.0,247.4 L552.0,248.4 L553.0,249.4 L554.0,250.4 L555.0,251.4 L556.0,252.5 L557.0,253.5 L558.0,254.5 L559.0,255.5 L560.0,256.5 L561.0,257.4 L562.0,258.4 L563.0,259.3 L564.0,260.2 L565.0,261.1 L566.0,262.0 L567.0,262.8 L568.0,263.6 L569.0,264.4 L570.0,265.2 L571.0,265.9 L572.0,266.6 L573.0,267.3 L574.0,268.0 L575.0,268.6 L576.0,269.2 L577.0,269.7 L578.0,270.3 L579.0,270.8 L580.0,271.2 L581.0,271.7 L582.0,272.1 L583.0,272.5" fill="none" stroke="#d44c4c" stroke-width="1.0" stroke-linejoin="round" stroke-dasharray="1.1,1.1"/>
<path d="M358.5,245.5 L373.5,238.3 L362.5,250.2 L373.0,237.7 L383.5,224.9 L394.0,216.2 L404.5,191.7 L415.0,160.0 L425.5,129.9 L436.0,99.4 L446.5,67.4 L457.0,49.9 L467.5,50.5 L478.0,61.8 L488.5,81.0 L499.0,105.4 L509.5,132.0 L520.0,157.7 L530.5,180.7 L541.0,200.8 L551.5,218.6 L562.0,234.5 L572.5,247.6 L583.0,257.0 L593.5,262.9 L598.0,264.5" fill="none" stroke="#808080" stroke-width="1.3" stroke-linejoin="round" />
<path d="M358.0,255.2 L362.5,253.5 L373.0,238.6 L383.5,229.1 L394.0,215.1 L404.5,188.3 L415.0,161.6 L425.5,141.0 L436.0,110.6 L446.5,82.1 L457.0,69.0 L467.5,69.4 L478.0,82.1 L488.5,103.0 L499.0,127.4 L509.5,151.0 L520.0,171.7 L530.5,189.9 L541.0,206.8 L551.5,223.2 L562.0,238.3 L572.5,250.8 L583.0,259.8 L593.5,265.4 L598.0,266.9" fill="none" stroke="#808080" stroke-width="1.3" stroke-linejoin="round" />
<path d="M358.0,257.1 L362.5,254.2 L373.0,238.6 L383.5,229.1 L394.0,215.1 L404.5,187.9 L415.0,157.9 L425.5,132.8 L436.0,102.7 L446.5,87.3 L457.0,80.3 L467.5,85.5 L478.0,101.9 L488.5,124.6 L499.0,147.6 L509.5,166.8 L520.0,182.3 L530.5,197.3 L541.0,214.9 L551.5,233.9 L562.0,250.6 L572.5,262.2 L583.0,268.6 L593.5,271.4 L598.0,271.9" fill="none" stroke="#808080" stroke-width="1.3" stroke-linejoin="round" />
<path d="M358.0,255.6 L362.5,252.0 L373.0,237.1 L383.5,225.7 L394.0,209.2 L404.5,184.7 L415.0,160.7 L425.5,145.9 L436.0,130.1 L446.5,120.2 L457.0,117.1 L467.5,121.7 L478.0,131.8 L488.5,144.8 L499.0,159.1 L509.5,175.2 L520.0,193.4 L530.5,213.3 L541.0,232.9 L551.5,249.8 L562.0,262.2 L572.5,270.0 L583.0,274.2 L593.5,276.1 L598.0,276.6" fill="none" stroke="#808080" stroke-width="1.3" stroke-linejoin="round" />
<path d="M278.0,264.0 L288.5,262.8 L299.8,271.5 L309.5,269.3 L320.0,260.3 L331.3,259.5 L342.6,260.3 L352.3,251.3 L359.8,251.3 L368.0,246.8 L372.6,238.2 L383.7,224.7 L395.2,215.2 L401.5,199.4 L408.2,182.3 L412.5,170.0 L415.0,160.0 L418.4,150.6 L423.8,134.4 L429.2,120.0 L437.5,95.0 L441.7,78.2 L447.1,62.0 L457.0,47.3 L467.0,53.9 L477.7,68.3 L482.3,71.0 L488.6,75.5 L493.7,93.2 L499.0,110.0 L505.3,120.5 L510.5,131.0 L518.4,155.2 L528.9,176.2 L537.3,193.0 L547.3,211.8 L553.6,222.3 L562.0,232.8 L570.5,243.3 L576.6,253.3 L583.2,258.2 L593.1,262.3 L604.7,268.1 L614.2,266.5 L626.1,276.4 L635.5,284.6 L646.5,278.8 L656.4,281.3 L667.1,273.9 L677.9,275.0 L687.8,281.3 L698.2,276.4" fill="none" stroke="#1e1e1e" stroke-width="1.6" stroke-linejoin="round" />
<path d="M278.0,268.5 L287.8,268.0 L299.0,266.7 L310.3,261.8 L319.3,261.8 L329.8,257.7 L341.0,253.5 L348.6,255.0 L354.6,252.8 L362.0,250.5 L368.0,248.3 L372.6,239.0 L385.2,227.5 L393.6,216.0 L398.9,203.5 L404.1,189.0 L410.0,178.0 L414.8,162.0 L420.2,150.6 L424.0,145.0 L433.4,120.0 L442.8,95.0 L451.1,77.6 L457.0,62.0 L467.0,71.0 L476.8,81.6 L486.3,101.6 L494.7,116.3 L502.0,129.0 L512.0,151.0 L520.5,166.8 L528.9,184.7 L533.7,195.0 L543.1,209.7 L553.6,224.4 L562.0,239.1 L570.5,245.5 L577.8,252.8 L583.2,261.5 L593.1,266.5 L603.8,274.7 L614.2,266.5 L626.1,274.7 L635.5,280.0 L646.5,278.0 L656.4,276.4 L667.1,280.5 L677.9,282.1 L687.8,279.7 L698.2,281.3" fill="none" stroke="#2c5ca6" stroke-width="1.6" stroke-linejoin="round" />
<path d="M278.0,269.3 L284.0,273.0 L292.3,274.8 L299.8,276.0 L309.5,270.0 L320.0,269.3 L331.3,267.0 L341.0,264.0 L348.6,258.8 L354.6,255.0 L362.0,252.8 L368.0,249.0 L372.6,239.0 L385.2,227.5 L393.6,216.0 L398.9,203.5 L404.1,189.0 L410.3,172.2 L414.0,160.0 L419.3,148.8 L424.0,137.0 L430.0,120.0 L434.5,104.0 L438.4,97.1 L446.3,86.4 L457.0,77.6 L467.2,84.5 L476.8,104.7 L485.3,114.2 L489.5,122.6 L492.0,130.0 L497.3,146.8 L505.7,161.5 L516.2,174.1 L522.6,184.7 L528.4,195.0 L536.8,211.8 L543.1,222.3 L551.5,228.6 L561.0,243.3 L565.2,253.9 L569.4,263.0 L573.3,268.1 L583.2,273.0 L596.4,277.2 L606.3,280.5 L614.2,282.1 L624.5,286.3 L636.0,278.0 L646.5,283.8 L656.4,287.9 L667.1,287.1 L677.9,281.3 L687.8,287.1 L698.2,286.6" fill="none" stroke="#23902a" stroke-width="1.6" stroke-linejoin="round" />
<path d="M278.0,272.3 L288.5,277.2 L299.0,273.8 L309.5,275.6 L320.0,271.8 L331.3,272.3 L341.0,266.3 L348.6,258.8 L357.6,252.0 L368.0,244.5 L372.6,237.5 L382.6,226.8 L391.0,216.2 L397.3,201.5 L403.6,186.8 L408.9,174.2 L411.5,168.0 L414.8,159.6 L420.2,150.6 L424.0,145.0 L436.0,135.5 L446.5,118.3 L456.8,115.4 L467.6,124.4 L477.5,128.9 L488.3,141.5 L491.0,144.7 L499.4,165.7 L512.0,178.4 L520.5,188.9 L523.2,195.0 L530.5,216.0 L541.0,237.0 L552.6,249.7 L562.0,254.9 L567.3,265.0 L572.0,274.3 L583.2,278.0 L594.8,281.3 L604.7,279.7 L614.6,283.0 L625.3,289.6 L635.5,286.0 L646.5,279.7 L656.4,282.1 L667.1,278.8 L677.9,291.2 L687.8,294.0 L698.2,294.0" fill="none" stroke="#f5221e" stroke-width="1.6" stroke-linejoin="round" />
<rect x="278.6" y="19.6" width="419.9" height="274.9" fill="none" stroke="#141414" stroke-width="1.5"/>
<line x1="278.60" y1="294.50" x2="278.60" y2="302.00" stroke="#141414" stroke-width="1.3"/>
<text x="278.6" y="314.2" font-size="11.2" font-weight="bold" fill="#141414" stroke="#141414" stroke-width="0.35" text-anchor="middle" >290</text>
<line x1="299.60" y1="294.50" x2="299.60" y2="299.00" stroke="#141414" stroke-width="1.3"/>
<line x1="320.60" y1="294.50" x2="320.60" y2="299.00" stroke="#141414" stroke-width="1.3"/>
<line x1="341.60" y1="294.50" x2="341.60" y2="299.00" stroke="#141414" stroke-width="1.3"/>
<line x1="362.60" y1="294.50" x2="362.60" y2="302.00" stroke="#141414" stroke-width="1.3"/>
<text x="362.6" y="314.2" font-size="11.2" font-weight="bold" fill="#141414" stroke="#141414" stroke-width="0.35" text-anchor="middle" >288</text>
<line x1="383.60" y1="294.50" x2="383.60" y2="299.00" stroke="#141414" stroke-width="1.3"/>
<line x1="404.60" y1="294.50" x2="404.60" y2="299.00" stroke="#141414" stroke-width="1.3"/>
<line x1="425.60" y1="294.50" x2="425.60" y2="299.00" stroke="#141414" stroke-width="1.3"/>
<line x1="446.60" y1="294.50" x2="446.60" y2="302.00" stroke="#141414" stroke-width="1.3"/>
<text x="446.6" y="314.2" font-size="11.2" font-weight="bold" fill="#141414" stroke="#141414" stroke-width="0.35" text-anchor="middle" >286</text>
<line x1="467.60" y1="294.50" x2="467.60" y2="299.00" stroke="#141414" stroke-width="1.3"/>
<line x1="488.60" y1="294.50" x2="488.60" y2="299.00" stroke="#141414" stroke-width="1.3"/>
<line x1="509.60" y1="294.50" x2="509.60" y2="299.00" stroke="#141414" stroke-width="1.3"/>
<line x1="530.60" y1="294.50" x2="530.60" y2="302.00" stroke="#141414" stroke-width="1.3"/>
<text x="530.6" y="314.2" font-size="11.2" font-weight="bold" fill="#141414" stroke="#141414" stroke-width="0.35" text-anchor="middle" >284</text>
<line x1="551.60" y1="294.50" x2="551.60" y2="299.00" stroke="#141414" stroke-width="1.3"/>
<line x1="572.60" y1="294.50" x2="572.60" y2="299.00" stroke="#141414" stroke-width="1.3"/>
<line x1="593.60" y1="294.50" x2="593.60" y2="299.00" stroke="#141414" stroke-width="1.3"/>
<line x1="614.60" y1="294.50" x2="614.60" y2="302.00" stroke="#141414" stroke-width="1.3"/>
<text x="614.6" y="314.2" font-size="11.2" font-weight="bold" fill="#141414" stroke="#141414" stroke-width="0.35" text-anchor="middle" >282</text>
<line x1="635.60" y1="294.50" x2="635.60" y2="299.00" stroke="#141414" stroke-width="1.3"/>
<line x1="656.60" y1="294.50" x2="656.60" y2="299.00" stroke="#141414" stroke-width="1.3"/>
<line x1="677.60" y1="294.50" x2="677.60" y2="299.00" stroke="#141414" stroke-width="1.3"/>
<line x1="698.60" y1="294.50" x2="698.60" y2="302.00" stroke="#141414" stroke-width="1.3"/>
<text x="698.6" y="314.2" font-size="11.2" font-weight="bold" fill="#141414" stroke="#141414" stroke-width="0.35" text-anchor="middle" >280</text>
<line x1="276.40" y1="286.20" x2="278.60" y2="286.20" stroke="#141414" stroke-width="1.1"/>
<line x1="698.50" y1="286.20" x2="700.70" y2="286.20" stroke="#141414" stroke-width="1.1"/>
<line x1="276.40" y1="277.00" x2="278.60" y2="277.00" stroke="#141414" stroke-width="1.1"/>
<line x1="698.50" y1="277.00" x2="700.70" y2="277.00" stroke="#141414" stroke-width="1.1"/>
<line x1="276.40" y1="267.80" x2="278.60" y2="267.80" stroke="#141414" stroke-width="1.1"/>
<line x1="698.50" y1="267.80" x2="700.70" y2="267.80" stroke="#141414" stroke-width="1.1"/>
<line x1="276.40" y1="258.60" x2="278.60" y2="258.60" stroke="#141414" stroke-width="1.1"/>
<line x1="698.50" y1="258.60" x2="700.70" y2="258.60" stroke="#141414" stroke-width="1.1"/>
<line x1="274.00" y1="249.40" x2="278.60" y2="249.40" stroke="#141414" stroke-width="1.1"/>
<line x1="698.50" y1="249.40" x2="703.10" y2="249.40" stroke="#141414" stroke-width="1.1"/>
<line x1="276.40" y1="240.20" x2="278.60" y2="240.20" stroke="#141414" stroke-width="1.1"/>
<line x1="698.50" y1="240.20" x2="700.70" y2="240.20" stroke="#141414" stroke-width="1.1"/>
<line x1="276.40" y1="231.00" x2="278.60" y2="231.00" stroke="#141414" stroke-width="1.1"/>
<line x1="698.50" y1="231.00" x2="700.70" y2="231.00" stroke="#141414" stroke-width="1.1"/>
<line x1="276.40" y1="221.80" x2="278.60" y2="221.80" stroke="#141414" stroke-width="1.1"/>
<line x1="698.50" y1="221.80" x2="700.70" y2="221.80" stroke="#141414" stroke-width="1.1"/>
<line x1="276.40" y1="212.60" x2="278.60" y2="212.60" stroke="#141414" stroke-width="1.1"/>
<line x1="698.50" y1="212.60" x2="700.70" y2="212.60" stroke="#141414" stroke-width="1.1"/>
<line x1="274.00" y1="203.40" x2="278.60" y2="203.40" stroke="#141414" stroke-width="1.1"/>
<line x1="698.50" y1="203.40" x2="703.10" y2="203.40" stroke="#141414" stroke-width="1.1"/>
<line x1="276.40" y1="194.20" x2="278.60" y2="194.20" stroke="#141414" stroke-width="1.1"/>
<line x1="698.50" y1="194.20" x2="700.70" y2="194.20" stroke="#141414" stroke-width="1.1"/>
<line x1="276.40" y1="185.00" x2="278.60" y2="185.00" stroke="#141414" stroke-width="1.1"/>
<line x1="698.50" y1="185.00" x2="700.70" y2="185.00" stroke="#141414" stroke-width="1.1"/>
<line x1="276.40" y1="175.80" x2="278.60" y2="175.80" stroke="#141414" stroke-width="1.1"/>
<line x1="698.50" y1="175.80" x2="700.70" y2="175.80" stroke="#141414" stroke-width="1.1"/>
<line x1="276.40" y1="166.60" x2="278.60" y2="166.60" stroke="#141414" stroke-width="1.1"/>
<line x1="698.50" y1="166.60" x2="700.70" y2="166.60" stroke="#141414" stroke-width="1.1"/>
<line x1="274.00" y1="157.40" x2="278.60" y2="157.40" stroke="#141414" stroke-width="1.1"/>
<line x1="698.50" y1="157.40" x2="703.10" y2="157.40" stroke="#141414" stroke-width="1.1"/>
<line x1="276.40" y1="148.20" x2="278.60" y2="148.20" stroke="#141414" stroke-width="1.1"/>
<line x1="698.50" y1="148.20" x2="700.70" y2="148.20" stroke="#141414" stroke-width="1.1"/>
<line x1="276.40" y1="139.00" x2="278.60" y2="139.00" stroke="#141414" stroke-width="1.1"/>
<line x1="698.50" y1="139.00" x2="700.70" y2="139.00" stroke="#141414" stroke-width="1.1"/>
<line x1="276.40" y1="129.80" x2="278.60" y2="129.80" stroke="#141414" stroke-width="1.1"/>
<line x1="698.50" y1="129.80" x2="700.70" y2="129.80" stroke="#141414" stroke-width="1.1"/>
<line x1="276.40" y1="120.60" x2="278.60" y2="120.60" stroke="#141414" stroke-width="1.1"/>
<line x1="698.50" y1="120.60" x2="700.70" y2="120.60" stroke="#141414" stroke-width="1.1"/>
<line x1="274.00" y1="111.40" x2="278.60" y2="111.40" stroke="#141414" stroke-width="1.1"/>
<line x1="698.50" y1="111.40" x2="703.10" y2="111.40" stroke="#141414" stroke-width="1.1"/>
<line x1="276.40" y1="102.20" x2="278.60" y2="102.20" stroke="#141414" stroke-width="1.1"/>
<line x1="698.50" y1="102.20" x2="700.70" y2="102.20" stroke="#141414" stroke-width="1.1"/>
<line x1="276.40" y1="93.00" x2="278.60" y2="93.00" stroke="#141414" stroke-width="1.1"/>
<line x1="698.50" y1="93.00" x2="700.70" y2="93.00" stroke="#141414" stroke-width="1.1"/>
<line x1="276.40" y1="83.80" x2="278.60" y2="83.80" stroke="#141414" stroke-width="1.1"/>
<line x1="698.50" y1="83.80" x2="700.70" y2="83.80" stroke="#141414" stroke-width="1.1"/>
<line x1="276.40" y1="74.60" x2="278.60" y2="74.60" stroke="#141414" stroke-width="1.1"/>
<line x1="698.50" y1="74.60" x2="700.70" y2="74.60" stroke="#141414" stroke-width="1.1"/>
<line x1="274.00" y1="65.40" x2="278.60" y2="65.40" stroke="#141414" stroke-width="1.1"/>
<line x1="698.50" y1="65.40" x2="703.10" y2="65.40" stroke="#141414" stroke-width="1.1"/>
<line x1="276.40" y1="56.20" x2="278.60" y2="56.20" stroke="#141414" stroke-width="1.1"/>
<line x1="698.50" y1="56.20" x2="700.70" y2="56.20" stroke="#141414" stroke-width="1.1"/>
<line x1="276.40" y1="47.00" x2="278.60" y2="47.00" stroke="#141414" stroke-width="1.1"/>
<line x1="698.50" y1="47.00" x2="700.70" y2="47.00" stroke="#141414" stroke-width="1.1"/>
<line x1="276.40" y1="37.80" x2="278.60" y2="37.80" stroke="#141414" stroke-width="1.1"/>
<line x1="698.50" y1="37.80" x2="700.70" y2="37.80" stroke="#141414" stroke-width="1.1"/>
<line x1="276.40" y1="28.60" x2="278.60" y2="28.60" stroke="#141414" stroke-width="1.1"/>
<line x1="698.50" y1="28.60" x2="700.70" y2="28.60" stroke="#141414" stroke-width="1.1"/>
<text x="482" y="16.8" font-size="10.4" font-weight="bold" fill="#141414" stroke="#141414" stroke-width="0.35" text-anchor="middle" >C 1s</text>
<text x="285.8" y="33.7" font-size="10.5" font-weight="bold" fill="#f5221e" stroke="#f5221e" stroke-width="0.35" text-anchor="start" >0</text>
<text x="298.3" y="33.7" font-size="10.5" font-weight="bold" fill="#f5221e" stroke="#f5221e" stroke-width="0.35" text-anchor="start" >7.7 %</text>
<text x="285.8" y="46.0" font-size="10.5" font-weight="bold" fill="#23902a" stroke="#23902a" stroke-width="0.35" text-anchor="start" >1</text>
<text x="298.3" y="46.0" font-size="10.5" font-weight="bold" fill="#23902a" stroke="#23902a" stroke-width="0.35" text-anchor="start" >2.8 %</text>
<text x="285.8" y="58.3" font-size="10.5" font-weight="bold" fill="#2c5ca6" stroke="#2c5ca6" stroke-width="0.35" text-anchor="start" >2</text>
<text x="298.3" y="58.3" font-size="10.5" font-weight="bold" fill="#2c5ca6" stroke="#2c5ca6" stroke-width="0.35" text-anchor="start" >1.4 %</text>
<text x="285.8" y="70.6" font-size="10.5" font-weight="bold" fill="#1e1e1e" stroke="#1e1e1e" stroke-width="0.35" text-anchor="start" >3</text>
<text x="298.3" y="70.6" font-size="10.5" font-weight="bold" fill="#1e1e1e" stroke="#1e1e1e" stroke-width="0.35" text-anchor="start" >1.0 %</text>
<text x="350.5" y="137.9" font-size="12.5" font-weight="bold" fill="#141414" stroke="#141414" stroke-width="0.35" text-anchor="middle" >cesium carbide</text>
<text x="352" y="151.6" font-size="12.5" font-weight="bold" fill="#141414" stroke="#141414" stroke-width="0.35" text-anchor="middle" >species</text>
<text x="568.8" y="193.1" font-size="12.4" font-weight="bold" fill="#141414" stroke="#141414" stroke-width="0.35" text-anchor="start" >adventitous C</text>
<text x="488.7" y="327.5" font-size="10.9" font-weight="bold" fill="#141414" stroke="#141414" stroke-width="0.35" text-anchor="middle" >Binding Energy (eV)</text>
<text transform="translate(270.4,157.0) rotate(-90)" x="0" y="0" font-size="11.8" font-weight="bold" fill="#141414" stroke="#141414" stroke-width="0.35" text-anchor="middle">Arbitrary Units</text>
<text x="252.5" y="14.8" font-size="14.1" font-weight="normal" fill="#141414" stroke="#141414" stroke-width="0.25" text-anchor="start" >(b)</text>
<line x1="392.10" y1="156.10" x2="440.40" y2="196.15" stroke="#1a1a1a" stroke-width="1.1"/>
<path d="M445.4,200.3 L437.6,198.0 L441.7,193.0 Z" fill="#1a1a1a"/>
<line x1="573.00" y1="196.30" x2="529.93" y2="236.94" stroke="#1a1a1a" stroke-width="1.1"/>
<path d="M525.2,241.4 L528.5,233.9 L532.9,238.6 Z" fill="#1a1a1a"/>
</svg></body></html>
